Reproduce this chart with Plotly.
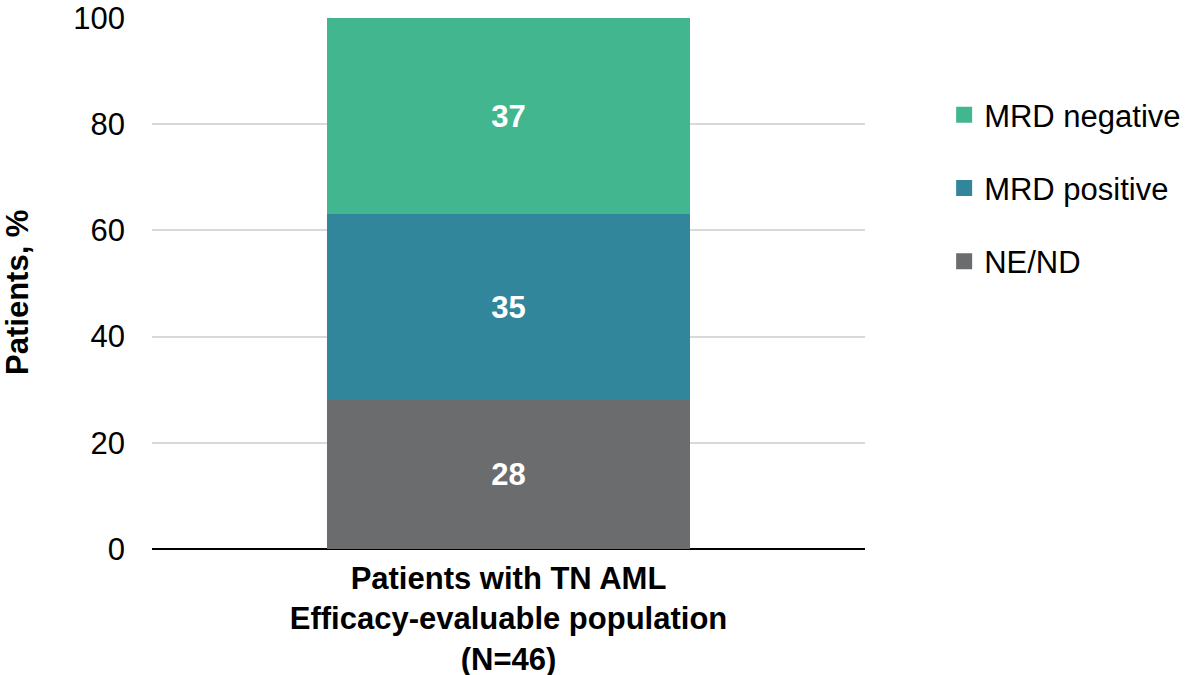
import plotly.graph_objects as go

# Response categories (stacked bottom to top) and their share of patients, %
categories = ["Patients with TN AML<br>Efficacy-evaluable population<br>(N=46)"]
series_names = ["NE/ND", "MRD positive", "MRD negative"]
series_values = [[28], [35], [37]]
series_colors = ["#6B6C6E", "#31869C", "#41B68F"]
y_ticks = [0, 20, 40, 60, 80, 100]

FONT = "Liberation Sans, Arial, sans-serif"
FS = 31

fig = go.Figure()
for name, vals, col in zip(series_names, series_values, series_colors):
    fig.add_trace(go.Bar(
        x=categories,
        y=vals,
        name=name,
        marker=dict(color=col, line=dict(width=0)),
        width=0.51,
        text=[str(v) for v in vals],
        textposition="inside",
        insidetextanchor="middle",
        textfont=dict(family=FONT, size=FS, color="white", weight="bold"),
        showlegend=False,
    ))

# Legend entries with square swatches, listed top to bottom as stacked
for rank, (name, col) in enumerate(zip(series_names[::-1], series_colors[::-1]), start=1):
    fig.add_trace(go.Scatter(
        x=[None], y=[None],
        mode="markers",
        name=name,
        marker=dict(symbol="square", size=16, color=col),
        legendgroup=name,
        legendrank=rank,
        hoverinfo="skip",
    ))

fig.update_layout(
    width=1187,
    height=675,
    barmode="stack",
    paper_bgcolor="white",
    plot_bgcolor="white",
    margin=dict(l=152, r=322, t=18, b=126, autoexpand=False),
    font=dict(family=FONT, size=FS, color="black"),
    uniformtext=dict(mode="show", minsize=FS),
    legend=dict(
        x=1.111, xanchor="left", xref="paper",
        y=0.868, yanchor="top",
        traceorder="grouped",
        tracegroupgap=30,
        font=dict(family=FONT, size=FS, color="black"),
        itemwidth=30,
        bgcolor="rgba(0,0,0,0)",
    ),
    xaxis=dict(
        range=[-0.5, 0.5],
        showgrid=False,
        showline=False,
        ticks="",
        ticklabelstandoff=8,
        tickfont=dict(family=FONT, size=FS, color="black", weight="bold"),
        automargin=False,
    ),
    yaxis=dict(
        range=[0, 100],
        tickvals=y_ticks,
        showgrid=True,
        gridcolor="#D9D9D9",
        gridwidth=2,
        zeroline=True,
        zerolinecolor="black",
        zerolinewidth=2,
        showline=False,
        ticks="",
        ticklabelstandoff=26,
        tickfont=dict(family=FONT, size=FS, color="black"),
        automargin=False,
    ),
    annotations=[dict(
        text="<b>Patients, %</b>",
        textangle=-90,
        xref="paper", yref="paper",
        x=-0.188, y=0.484,
        xanchor="center", yanchor="middle",
        showarrow=False,
        font=dict(family=FONT, size=FS, color="black"),
    )],
)

fig.write_html("out.html")
